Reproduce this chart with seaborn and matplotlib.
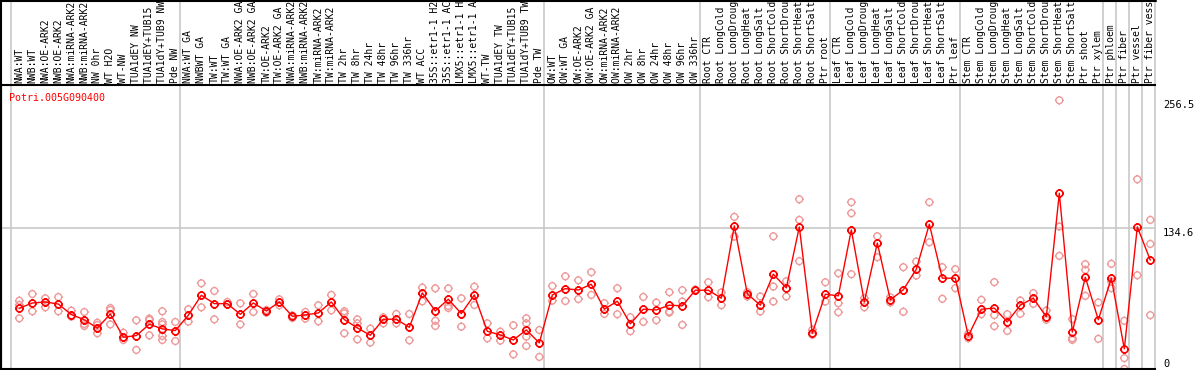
import matplotlib
matplotlib.use('Agg')
import matplotlib.pyplot as plt
import matplotlib.transforms as mtransforms
from matplotlib.path import Path
from matplotlib.lines import Line2D
import seaborn as sns
import pandas as pd

# --- data ---
gene = 'Potri.005G090400'

samples = [
    'NWA:WT', 'NWB:WT', 'NWA:OE-ARK2', 'NWB:OE-ARK2', 'NWA:miRNA-ARK2', 'NWB:miRNA-ARK2',
    'NW 0hr', 'WT H2O', 'WT-NW', 'TUA1dEY NW', 'TUA1dEY+TUB15 NW', 'TUA1dY+TUB9 NW', 'Pde NW',
    'NWA:WT GA', 'NWBWT GA', 'TW:WT', 'TW:WT GA', 'NWA:OE-ARK2 GA', 'NWB:OE-ARK2 GA',
    'TW:OE-ARK2', 'TW:OE-ARK2 GA', 'NWA:miRNA-ARK2 GA', 'NWB:miRNA-ARK2 GA', 'TW:miRNA-ARK2',
    'TW:miRNA-ARK2 GA', 'TW 2hr', 'TW 8hr', 'TW 24hr', 'TW 48hr', 'TW 96hr', 'TW 336hr', 'WT ACC',
    '35S::etr1-1 H2O', '35S::etr1-1 ACC', 'LMX5::etr1-1 H2O', 'LMX5::etr1-1 ACC', 'WT-TW',
    'TUA1dEY TW', 'TUA1dEY+TUB15 TW', 'TUA1dY+TUB9 TW', 'Pde TW',
    'OW:WT', 'OW:WT GA', 'OW:OE-ARK2', 'OW:OE-ARK2 GA', 'OW:miRNA-ARK2', 'OW:miRNA-ARK2 GA',
    'OW 2hr', 'OW 8hr', 'OW 24hr', 'OW 48hr', 'OW 96hr', 'OW 336hr',
    'Root CTR', 'Root LongCold', 'Root LongDrought', 'Root LongHeat', 'Root LongSalt',
    'Root ShortCold', 'Root ShortDrought', 'Root ShortHeat', 'Root ShortSalt', 'Ptr root',
    'Leaf CTR', 'Leaf LongCold', 'Leaf LongDrought', 'Leaf LongHeat', 'Leaf LongSalt',
    'Leaf ShortCold', 'Leaf ShortDrought', 'Leaf ShortHeat', 'Leaf ShortSalt', 'Ptr leaf',
    'Stem CTR', 'Stem LongCold', 'Stem LongDrought', 'Stem LongHeat', 'Stem LongSalt',
    'Stem ShortCold', 'Stem ShortDrought', 'Stem ShortHeat', 'Stem ShortSalt', 'Ptr shoot',
    'Ptr xylem', 'Ptr phloem', 'Ptr fiber', 'Ptr vessel', 'Ptr fiber vessel',
]

group_sizes = [13, 28, 12, 10, 10, 11, 1, 1, 1, 1]

means = [
    58.0, 63.0, 64.0, 62.0, 52.0, 47.0, 39.0, 52.5, 30.3, 31.9, 42.7, 38.3, 36.7,
    51.3, 70.4, 62.4, 62.4, 52.2, 63.0, 55.4, 64.0, 50.3, 51.6, 53.5, 64.0, 47.2, 39.2,
    32.2, 47.5, 47.5, 39.8, 72.6, 55.4, 66.6, 52.9, 70.7, 36.0, 32.5, 27.7, 37.3, 24.9,
    70.7, 76.7, 75.4, 80.9, 57.1, 64.7, 43.1, 57.1, 56.4, 60.9, 60.3, 75.2,
    75.2, 67.6, 136.6, 71.7, 60.9, 90.5, 77.4, 135.6, 34.2, 71.4,
    69.8, 132.8, 64.1, 120.3, 66.0, 75.6, 95.3, 138.2, 86.7, 86.7,
    31.7, 57.1, 58.1, 45.0, 60.9, 67.6, 49.8, 167.8, 35.2, 87.6, 47.0,
    86.7, 19.3, 135.7, 103.9,
]

replicates = [
    [65.2, 61.1, 48.4], [71.6, 55.1], [67.5, 58.9], [68.7, 55.1], [55.7, 50.0],
    [54.4, 43.0, 41.1], [44.2, 42.0, 34.1], [58.2, 56.3, 42.6], [34.7, 27.7], [46.5, 18.2],
    [48.1, 46.8, 32.1], [55.1, 44.9, 42.6, 37.2, 31.5, 27.7], [44.9, 26.7],
    [57.0, 45.2], [81.8, 58.9], [74.5, 47.4], [64.0, 61.7], [62.7, 42.6], [71.6, 54.4],
    [56.3, 53.8], [66.5, 60.8], [51.2, 48.7], [54.4, 48.1], [60.8, 45.5], [70.7, 56.0],
    [55.1, 53.1, 34.1], [47.4, 43.6, 28.3], [38.5, 25.2], [49.3, 43.6], [52.5, 43.6],
    [52.5, 27.4], [77.7, 64.6], [77.0, 46.1, 41.1], [77.0, 60.2, 58.2], [67.5, 40.4],
    [78.6, 61.1], [43.6, 29.3], [35.6, 27.1], [41.7, 14.0], [48.4, 43.6, 37.2, 30.9, 22.0],
    [37.2, 11.5],
    [79.2, 65.2], [88.5, 64.9], [84.7, 66.8], [92.4, 70.7], [62.8, 52.6], [77.1, 52.3],
    [49.4, 36.1], [68.8, 45.0], [63.4, 46.6], [73.3, 54.8, 53.9], [75.2, 64.4, 42.1],
    [75.8, 74.6],
    [82.8, 68.5], [73.0, 60.9], [145.2, 126.4], [73.3, 69.2], [69.2, 54.9],
    [126.7, 78.7, 64.4], [83.8, 69.2], [162.0, 142.3, 102.9], [37.4, 32.6], [82.8, 64.4],
    [91.4, 62.8, 54.2], [159.2, 148.7, 90.5], [67.6, 59.0], [126.7, 106.7], [68.5, 63.5],
    [97.2, 54.6], [102.6, 89.2], [159.2, 121.0], [97.2, 67.0], [95.3, 77.2],
    [33.6, 29.4], [66.0, 52.3], [82.9, 51.4, 40.9], [52.3, 36.4], [65.4, 52.7],
    [72.4, 62.2], [55.8, 47.0], [256.5, 136.0, 108.0], [47.6, 29.4, 27.8],
    [100.0, 94.6, 69.8], [63.5, 28.8], [100.4, 83.5, 77.2], [46.0, 10.4, 0.0],
    [181.1, 89.5], [142.3, 119.4, 51.4],
]

scale_labels = ['0', '134.6', '256.5']
scale_values = [0, 134.6, 256.5]

# --- style ---
sns.set_theme(style='white')
plt.rcParams['font.family'] = ['DejaVu Sans Mono']

W, H = 1194, 370
fig = plt.figure(figsize=(W / 100, H / 100), dpi=100)
ax = fig.add_axes([1 / W, 1 / H, 1154 / W, 284 / H])

# circle with four short ticks, like the eFP markers
ticks = Path([(0, 1), (0, 1.3), (0, -1), (0, -1.3), (1, 0), (1.3, 0), (-1, 0), (-1.3, 0)],
             [Path.MOVETO, Path.LINETO] * 4)
sun = Path.make_compound_path(Path.unit_circle(), ticks)

pos = list(range(len(samples)))
rep_df = pd.DataFrame([(i, v) for i, reps in enumerate(replicates) for v in reps],
                      columns=['pos', 'value'])
mean_df = pd.DataFrame({'pos': pos, 'value': means})

light = '#EE9A9A'
gray = '#C8C8C8'

ax.axhline(scale_values[1], color=gray, lw=1.2, zorder=0)

# group separators run up through the label area
edge = 0.66
blend = mtransforms.blended_transform_factory(ax.transData, ax.transAxes)
start = 0
for size in [0] + group_sizes:
    start += size
    ax.axvline(start - edge, ymin=0, ymax=1.31, color=gray, lw=1.2, clip_on=False, zorder=0)

sns.scatterplot(data=rep_df, x='pos', y='value', marker=sun, s=40, facecolor='none',
                edgecolor=light, linewidth=1.0, ax=ax, zorder=2, legend=False)
sns.lineplot(data=mean_df, x='pos', y='value', color='red', lw=1, marker=sun,
             markersize=6.4, markerfacecolor='none', markeredgecolor='red',
             markeredgewidth=1.2, ax=ax, zorder=3)

ax.set_xlim(-1.41, 87.36)
ax.set_ylim(0, 271.1)
ax.set_xticks([])
ax.set_yticks([])
ax.set_xlabel('')
ax.set_ylabel('')
for side in ['left', 'top', 'bottom']:
    ax.spines[side].set_color('black')
    ax.spines[side].set_linewidth(1.5)
ax.spines['right'].set_visible(False)

# sample labels above the plot
for i, name in enumerate(samples):
    ax.text(i, 1.008, name, transform=blend, rotation=90, ha='center', va='bottom',
            fontsize=7, color='black', clip_on=False)

# value scale on the right
right_blend = mtransforms.blended_transform_factory(ax.transAxes, ax.transData)
for lab, val in zip(scale_labels, scale_values):
    ax.text(1.0069, val, lab, transform=right_blend,
            ha='left', va='bottom' if val == 0 else 'top', fontsize=7.5, color='black')

ax.text(0.0072, 0.972, gene, transform=ax.transAxes, ha='left', va='top',
        fontsize=7.2, color='red')

# outer frame of the label area
fig.add_artist(Line2D([1 / W, 1 / W], [0, 1], transform=fig.transFigure, color='black', lw=1.5))
fig.add_artist(Line2D([0, 1156 / W], [1 - 0.5 / H, 1 - 0.5 / H], transform=fig.transFigure,
                      color='black', lw=1.5))

fig.savefig('out.png', dpi=100, facecolor='white')
